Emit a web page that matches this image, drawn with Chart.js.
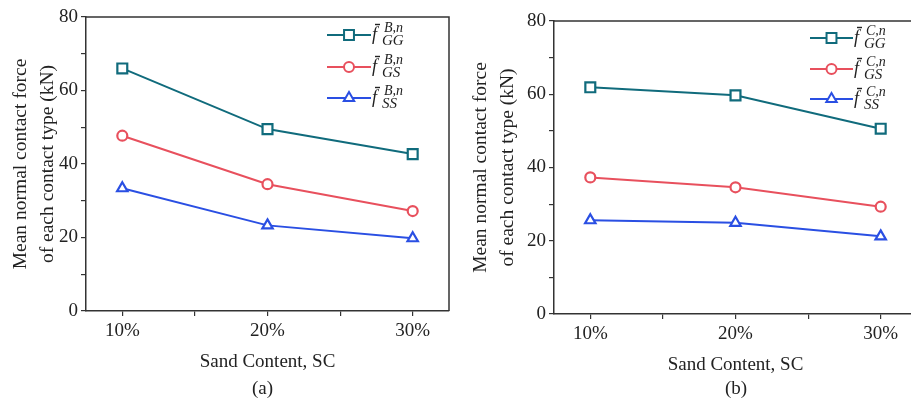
<!DOCTYPE html>
<html>
<head>
<meta charset="utf-8">
<script src="https://cdn.jsdelivr.net/npm/chart.js@4/dist/chart.umd.min.js"></script>
<style>
  html, body { margin: 0; padding: 0; background: #fff; width: 911px; height: 400px; overflow: hidden; }
  .panel { position: absolute; top: 0; }
  .cap { position: absolute; top: 377px; font: 19px "Liberation Serif", serif; color: #222; }
</style>
</head>
<body>
<div class="panel" style="left:0"><canvas id="chartA" width="460" height="400"></canvas></div>
<div class="panel" style="left:460px"><canvas id="chartB" width="470" height="400"></canvas></div>
<div class="cap" style="left:252px">(a)</div>
<div class="cap" style="left:725px">(b)</div>
<script>
// sand content categories
const categories = ['10%', '20%', '30%'];
const yTicks = [0, 10, 20, 30, 40, 50, 60, 70, 80];

// panel (a): B contacts
const ggB = [66.0, 49.5, 42.7];
const gsB = [47.7, 34.5, 27.2];
const ssB = [33.4, 23.3, 19.8];

// panel (b): C contacts
const ggC = [61.9, 59.7, 50.6];
const gsC = [37.3, 34.6, 29.3];
const ssC = [25.6, 24.9, 21.2];

const teal = '#106b7c';
const red = '#e8505d';
const blue = '#2a4fe3';
const axisColor = '#333';
const serif = '"Liberation Serif", "Times New Roman", serif';

function pts(arr) {
  return arr.map((v, i) => ({ x: i, y: v }));
}

function ds(label, arr, color, style, r) {
  return {
    label: label,
    data: pts(arr),
    borderColor: color,
    backgroundColor: '#fff',
    borderWidth: 2,
    pointStyle: style,
    pointRadius: r,
    pointBorderWidth: 2.2,
    pointBackgroundColor: '#fff',
    tension: 0
  };
}

// box round the plot + legend with f-bar labels
const framePlugin = {
  id: 'frame',
  afterDraw(chart, args, opts) {
    const ctx = chart.ctx;
    const a = chart.chartArea;
    ctx.save();
    ctx.strokeStyle = axisColor;
    ctx.lineWidth = 1.5;
    ctx.beginPath();
    ctx.moveTo(a.left, a.top);
    ctx.lineTo(a.right, a.top);
    ctx.lineTo(a.right, a.bottom);
    ctx.stroke();

    const rows = opts.rows;
    chart.data.datasets.forEach((d, i) => {
      const y = rows[i];
      const x0 = opts.x0, x1 = opts.x1;
      ctx.strokeStyle = d.borderColor;
      ctx.lineWidth = 2;
      ctx.beginPath();
      ctx.moveTo(x0, y);
      ctx.lineTo(x1, y);
      ctx.stroke();
      ctx.fillStyle = '#fff';
      Chart.helpers.drawPoint(ctx, {
        pointStyle: d.pointStyle, rotation: 0, radius: d.pointRadius, borderWidth: 2
      }, (x0 + x1) / 2, y);

      const tx = x1 + 1;
      ctx.fillStyle = '#222';
      ctx.strokeStyle = '#222';
      ctx.textAlign = 'left';
      ctx.textBaseline = 'alphabetic';
      ctx.font = 'italic 18px ' + serif;
      ctx.fillText('f', tx, y + 5);
      ctx.lineWidth = 1.4;
      ctx.beginPath();
      ctx.moveTo(tx + 3, y - 10.5);
      ctx.lineTo(tx + 8, y - 10.5);
      ctx.stroke();
      ctx.font = 'italic 14px ' + serif;
      ctx.fillText(opts.sup, tx + 12, y - 3);
      ctx.font = 'italic 15px ' + serif;
      ctx.fillText(d.label, tx + 10, y + 10);
    });
    ctx.restore();
  }
};

function makeChart(id, sets, layout, legend) {
  return new Chart(document.getElementById(id), {
    type: 'line',
    data: { datasets: sets },
    options: {
      responsive: false,
      animation: false,
      layout: { padding: layout.padding },
      plugins: {
        legend: { display: false },
        tooltip: { enabled: false },
        frame: legend
      },
      scales: {
        x: {
          type: 'linear',
          min: -0.25,
          max: 2.25,
          afterFit: s => { s.height = layout.xh; },
          afterBuildTicks: s => { s.ticks = [0, 0.5, 1, 1.5, 2].map(v => ({ value: v })); },
          border: { color: axisColor, width: 1.5 },
          grid: { drawOnChartArea: false, drawTicks: true, tickLength: 5, color: axisColor, lineWidth: 1.2 },
          ticks: {
            color: '#222',
            padding: 4,
            maxRotation: 0,
            autoSkip: false,
            font: { family: serif, size: 19 },
            callback: v => Number.isInteger(v) ? categories[v] : ''
          },
          title: {
            display: true,
            text: 'Sand Content, SC',
            color: '#222',
            font: { family: serif, size: 19 },
            padding: { top: 8, bottom: layout.tb }
          }
        },
        y: {
          min: 0,
          max: 80,
          afterFit: s => { s.width = layout.yw; },
          afterBuildTicks: s => { s.ticks = yTicks.map(v => ({ value: v })); },
          border: { color: axisColor, width: 1.5 },
          grid: { drawOnChartArea: false, drawTicks: true, tickLength: 5, color: axisColor, lineWidth: 1.2 },
          ticks: {
            color: '#222',
            padding: 3,
            font: { family: serif, size: 19 },
            callback: v => v % 20 === 0 ? String(v) : ''
          },
          title: {
            display: true,
            text: ['Mean normal contact force', 'of each contact type (kN)'],
            color: '#222',
            font: { family: serif, size: 19.5, lineHeight: 1.35 },
            padding: { top: 8, bottom: 0 }
          }
        }
      }
    },
    plugins: [framePlugin]
  });
}

makeChart('chartA', [
  ds('GG', ggB, teal, 'rect', 7),
  ds('GS', gsB, red, 'circle', 5),
  ds('SS', ssB, blue, 'triangle', 6)
], { padding: { left: 0, right: 11, top: 17, bottom: 0 }, xh: 89, yw: 86, tb: 27 },
   { rows: [35, 67, 98], x0: 327, x1: 371, sup: 'B,n' });

makeChart('chartB', [
  ds('GG', ggC, teal, 'rect', 7),
  ds('GS', gsC, red, 'circle', 5),
  ds('SS', ssC, blue, 'triangle', 6)
], { padding: { left: 0, right: 13, top: 21, bottom: 0 }, xh: 86, yw: 94, tb: 24 },
   { rows: [38, 69, 99], x0: 350, x1: 393, sup: 'C,n' });
</script>
</body>
</html>
